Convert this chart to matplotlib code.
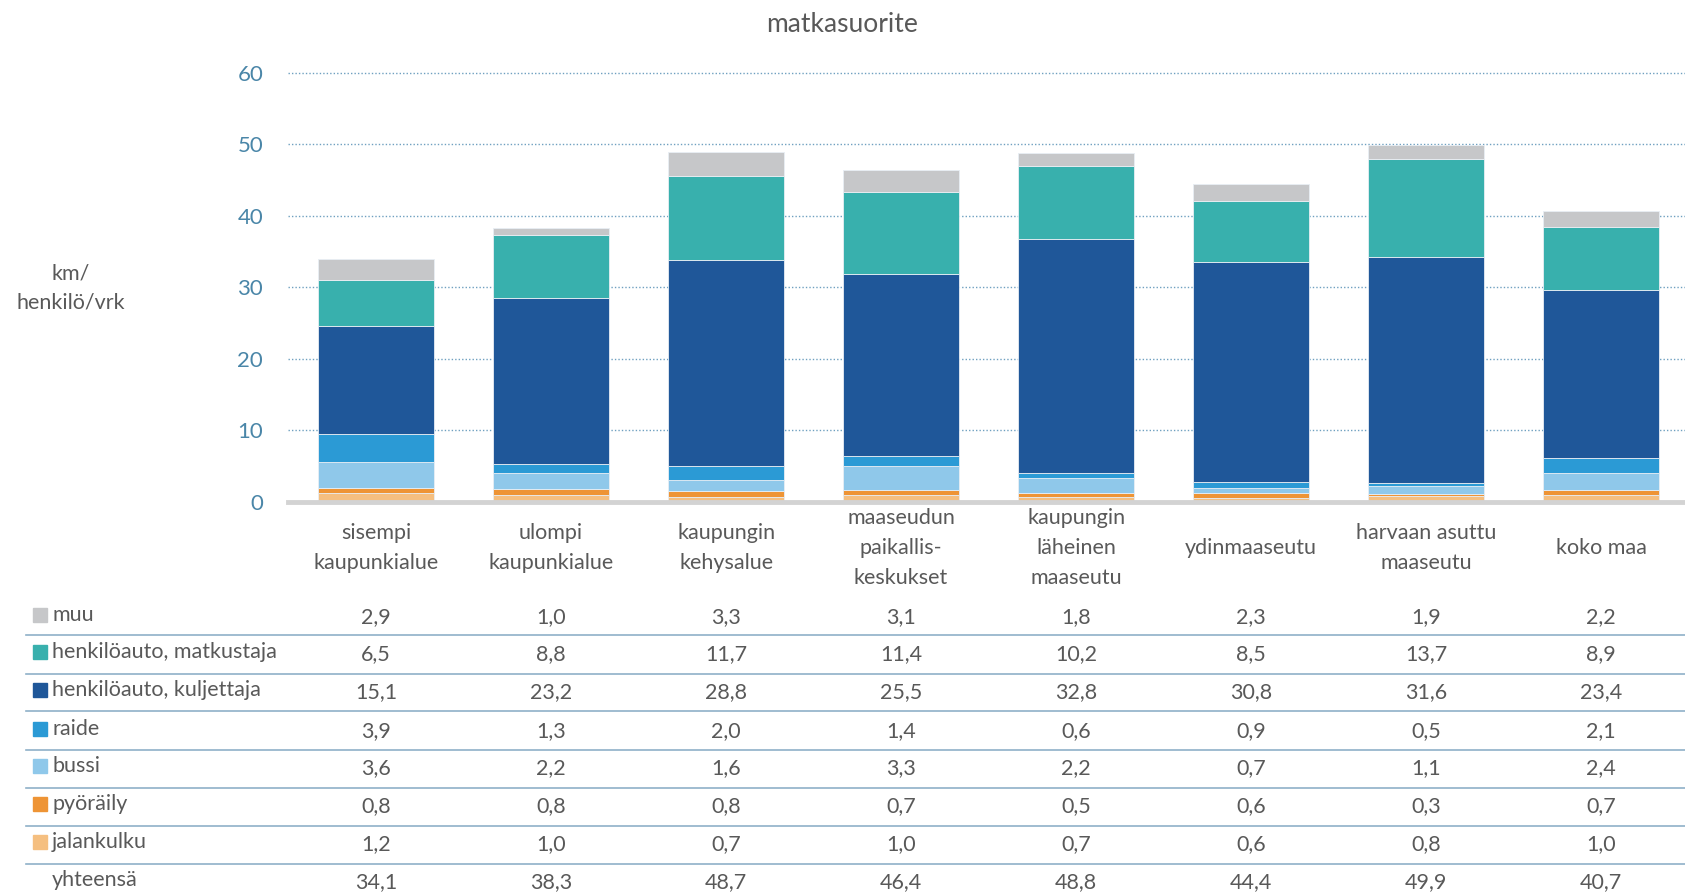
import numpy as np
import matplotlib.pyplot as plt
import matplotlib.transforms as mtransforms

plt.rcParams['font.family'] = ['Lato', 'DejaVu Sans']

# data
categories = ['sisempi\nkaupunkialue', 'ulompi\nkaupunkialue', 'kaupungin\nkehysalue',
              'maaseudun\npaikallis-\nkeskukset', 'kaupungin\nläheinen\nmaaseutu',
              'ydinmaaseutu', 'harvaan asuttu\nmaaseutu', 'koko maa']
jalankulku = [1.2, 1.0, 0.7, 1.0, 0.7, 0.6, 0.8, 1.0]
pyoraily = [0.8, 0.8, 0.8, 0.7, 0.5, 0.6, 0.3, 0.7]
bussi = [3.6, 2.2, 1.6, 3.3, 2.2, 0.7, 1.1, 2.4]
raide = [3.9, 1.3, 2.0, 1.4, 0.6, 0.9, 0.5, 2.1]
kuljettaja = [15.1, 23.2, 28.8, 25.5, 32.8, 30.8, 31.6, 23.4]
matkustaja = [6.5, 8.8, 11.7, 11.4, 10.2, 8.5, 13.7, 8.9]
muu = [2.9, 1.0, 3.3, 3.1, 1.8, 2.3, 1.9, 2.2]
yhteensa = [34.1, 38.3, 48.7, 46.4, 48.8, 44.4, 49.9, 40.7]

# stacking order bottom -> top
series = [
    ('jalankulku', jalankulku, '#f5bf80'),
    ('pyöräily', pyoraily, '#ee9435'),
    ('bussi', bussi, '#8fc8ea'),
    ('raide', raide, '#2b9ad5'),
    ('henkilöauto, kuljettaja', kuljettaja, '#1f5799'),
    ('henkilöauto, matkustaja', matkustaja, '#38b0ad'),
    ('muu', muu, '#c6c7c9'),
]

txt = '#595959'
tick_col = '#4a86a8'
fs = 15.5

fig = plt.figure(figsize=(16.85, 8.94), dpi=100)
ax = fig.add_axes([0.171, 0.4385, 0.829, 0.48])

x = np.arange(len(categories))
bottom = np.zeros(len(categories))
for name, vals, col in series:
    ax.bar(x, vals, 0.66, bottom=bottom, color=col, edgecolor='#e8eef4', linewidth=0.6)
    bottom += np.array(vals)

ax.set_xlim(-0.503, 7.48)
ax.set_ylim(0, 60)
ax.set_yticks(range(0, 61, 10))
ax.tick_params(axis='y', length=0, labelsize=16, labelcolor=tick_col, pad=18)
ax.set_xticks([])
for s in ax.spines.values():
    s.set_visible(False)
ax.axhline(0, color='#d3d3d3', lw=3.5, zorder=3, clip_on=False)
for v in range(10, 61, 10):
    ax.axhline(v, color='#6fa0c0', lw=1.0, ls=(0, (1, 1.5)), zorder=0, clip_on=False)
ax.set_axisbelow(True)

fig.text(0.5, 0.973, 'matkasuorite', ha='center', va='center', fontsize=19, color=txt)
fig.text(0.042, 0.678, 'km/\nhenkilö/vrk', ha='center', va='center', fontsize=fs,
         color=txt, linespacing=1.55)

trans = mtransforms.blended_transform_factory(ax.transData, fig.transFigure)
for i, c in enumerate(categories):
    ax.text(i, 1 - 548 / 894, c, transform=trans, ha='center', va='center',
            fontsize=fs, color=txt, linespacing=1.6)

# table below
rows = [(n, v, c) for n, v, c in series[::-1]] + [('yhteensä', yhteensa, None)]
row_y = [615, 652, 690, 729, 766, 804, 842, 880]
line_y = [635, 674, 711, 750, 788, 826, 864]
for (name, vals, col), yy in zip(rows, row_y):
    yf = 1 - yy / 894
    if col is not None:
        fig.patches.append(plt.Rectangle((33 / 1685, yf - 7 / 894), 14 / 1685, 14 / 894,
                                         transform=fig.transFigure, color=col))
    fig.text(52 / 1685, yf, name, ha='left', va='center', fontsize=fs, color=txt)
    for i, v in enumerate(vals):
        ax.text(i, yf - 2 / 894, f'{v:.1f}'.replace('.', ','), transform=trans, ha='center',
                va='center', fontsize=fs, color=txt)
for ly in line_y:
    fig.add_artist(plt.Line2D([26 / 1685, 1], [1 - ly / 894] * 2,
                              transform=fig.transFigure, color='#8fb0c8', lw=1.2))

fig.savefig('out.png', dpi=100)
